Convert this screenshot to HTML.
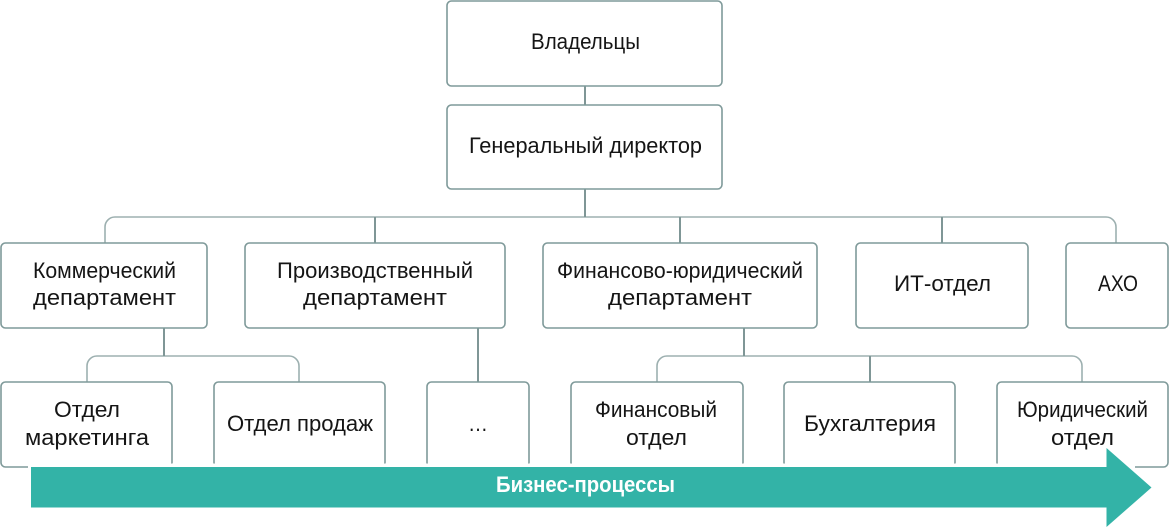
<!DOCTYPE html>
<html lang="ru">
<head>
<meta charset="utf-8">
<title>Организационная структура</title>
<style>
html,body{margin:0;padding:0;background:#fff}
svg{display:block}
text{font-family:"Liberation Sans","DejaVu Sans",sans-serif;font-size:22px;fill:#151515}
</style>
</head>
<body>
<svg width="1170" height="528" viewBox="0 0 1170 528" xmlns="http://www.w3.org/2000/svg">
<g fill="none" stroke="#9db0b0" stroke-width="1.6">
<path d="M105 243V227a10 10 0 0 1 10-10H1106a10 10 0 0 1 10 10V243"/>
<path d="M87 382V366a10 10 0 0 1 10-10H289a10 10 0 0 1 10 10V382"/>
<path d="M657 382V366a10 10 0 0 1 10-10H1072a10 10 0 0 1 10 10V382"/>
</g>
<g fill="none" stroke="#7f9696" stroke-width="2">
<path d="M585 86V105M585 189V217M375 217V243M680 217V243M942 217V243M164 328V356M478 328V382M744 328V356M870 356V382"/>
</g>
<g fill="#fff" stroke="#7f9a9a" stroke-width="1.6">
<rect x="447" y="1" width="275" height="85" rx="4.5"/>
<rect x="447" y="105" width="275" height="84" rx="4.5"/>
<rect x="1" y="243" width="206" height="85" rx="4.5"/>
<rect x="245" y="243" width="260" height="85" rx="4.5"/>
<rect x="543" y="243" width="274" height="85" rx="4.5"/>
<rect x="856" y="243" width="172" height="85" rx="4.5"/>
<rect x="1066" y="243" width="102" height="85" rx="4.5"/>
<rect x="1" y="382" width="171" height="85" rx="4.5"/>
<rect x="214" y="382" width="171" height="85" rx="4.5"/>
<rect x="427" y="382" width="102" height="85" rx="4.5"/>
<rect x="571" y="382" width="172" height="85" rx="4.5"/>
<rect x="784" y="382" width="171" height="85" rx="4.5"/>
<rect x="997" y="382" width="171" height="85" rx="4.5"/>
</g>
<rect x="28" y="463.5" width="1107" height="6" fill="#fff"/>
<text x="531" y="49" textLength="109" lengthAdjust="spacingAndGlyphs">Владельцы</text>
<text x="469" y="153" textLength="233" lengthAdjust="spacingAndGlyphs">Генеральный директор</text>
<text x="33" y="278" textLength="143" lengthAdjust="spacingAndGlyphs">Коммерческий</text>
<text x="33" y="305" textLength="143" lengthAdjust="spacingAndGlyphs">департамент</text>
<text x="277" y="278" textLength="196" lengthAdjust="spacingAndGlyphs">Производственный</text>
<text x="303" y="305" textLength="144" lengthAdjust="spacingAndGlyphs">департамент</text>
<text x="557" y="278" textLength="246" lengthAdjust="spacingAndGlyphs">Финансово-юридический</text>
<text x="608" y="305" textLength="144" lengthAdjust="spacingAndGlyphs">департамент</text>
<text x="894" y="291" textLength="97" lengthAdjust="spacingAndGlyphs">ИТ-отдел</text>
<text x="1098" y="291" textLength="40" lengthAdjust="spacingAndGlyphs">АХО</text>
<text x="54" y="417" textLength="66" lengthAdjust="spacingAndGlyphs">Отдел</text>
<text x="25" y="445" textLength="124" lengthAdjust="spacingAndGlyphs">маркетинга</text>
<text x="227" y="431" textLength="146" lengthAdjust="spacingAndGlyphs">Отдел продаж</text>
<text x="468" y="431" textLength="20" lengthAdjust="spacingAndGlyphs">…</text>
<text x="595" y="417" textLength="122" lengthAdjust="spacingAndGlyphs">Финансовый</text>
<text x="626" y="445" textLength="61" lengthAdjust="spacingAndGlyphs">отдел</text>
<text x="804" y="431" textLength="132" lengthAdjust="spacingAndGlyphs">Бухгалтерия</text>
<text x="1017" y="417" textLength="131" lengthAdjust="spacingAndGlyphs">Юридический</text>
<text x="1051" y="445" textLength="63" lengthAdjust="spacingAndGlyphs">отдел</text>
<polygon points="31,467 1106.5,467 1106.5,448 1151.5,487.5 1106.5,527 1106.5,507.5 31,507.5" fill="#33b3a7"/>
<text x="496" y="492" textLength="179" lengthAdjust="spacingAndGlyphs" style="fill:#fff;font-weight:bold">Бизнес-процессы</text>
</svg>
</body>
</html>
